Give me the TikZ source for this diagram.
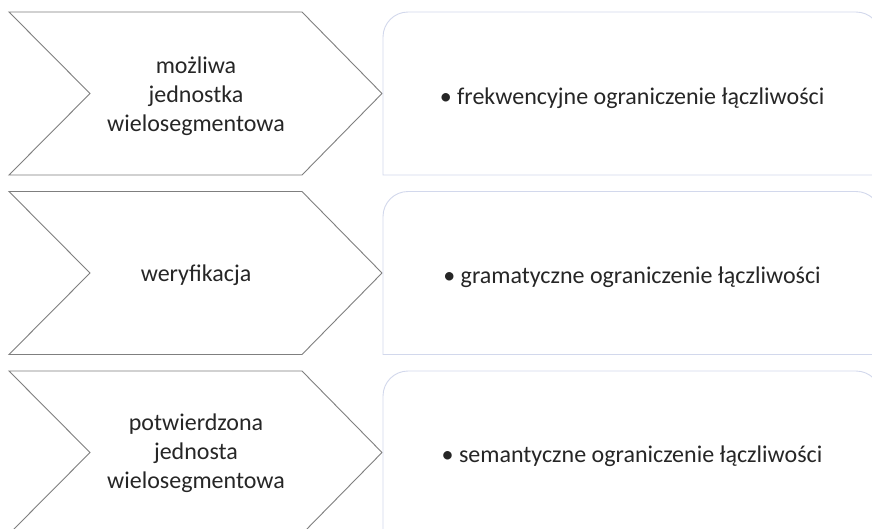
\documentclass[tikz,border=0pt]{standalone}
\usepackage{fontspec}
\setmainfont{Carlito}
\definecolor{chevline}{HTML}{7F7F7F}
\definecolor{boxline}{HTML}{D2D8EC}
\definecolor{txt}{HTML}{262626}
\begin{document}
\begin{tikzpicture}[x=1pt,y=1pt,
  chev/.style={draw=chevline,line width=0.9pt,fill=white,line join=miter},
  rbox/.style={draw=boxline,line width=0.9pt,fill=white},
  ltext/.style={align=center,font=\fontsize{24}{29}\selectfont,text=txt},
  rtext/.style={font=\fontsize{24}{29}\selectfont,text=txt}]
\useasboundingbox (0,0) rectangle (872,-528);
\clip (0,0) rectangle (872,-528);
\fill[white] (0,0) rectangle (872,-528);
% row tops: 12, 191.5, 371 ; height 163
\foreach \t/\n in {12/1,191.5/2,371/3}{
  \draw[chev] (9,-\t) -- (302,-\t) -- (382,-\t-81.5) -- (302,-\t-163) -- (9,-\t-163) -- (90,-\t-81.5) -- cycle;
  \draw[rbox] (383,-\t-163) -- (383,-\t-25) arc[start angle=180,end angle=90,radius=25] -- (856,-\t) arc[start angle=90,end angle=0,radius=25] -- (881,-\t-163) -- cycle;
}
\node[ltext] (l1) at (196,-96) {możliwa\\jednostka\\wielosegmentowa};
\node[ltext] (l2) at (196,-275) {weryfikacja};
\node[ltext] (l3) at (196,-453) {potwierdzona\\jednosta\\wielosegmentowa};
\node[rtext] (r1) at (632,-98) {• frekwencyjne ograniczenie łączliwości};
\node[rtext] (r2) at (632,-277) {• gramatyczne ograniczenie łączliwości};
\node[rtext] (r3) at (632,-456) {• semantyczne ograniczenie łączliwości};
\end{tikzpicture}
\end{document}
